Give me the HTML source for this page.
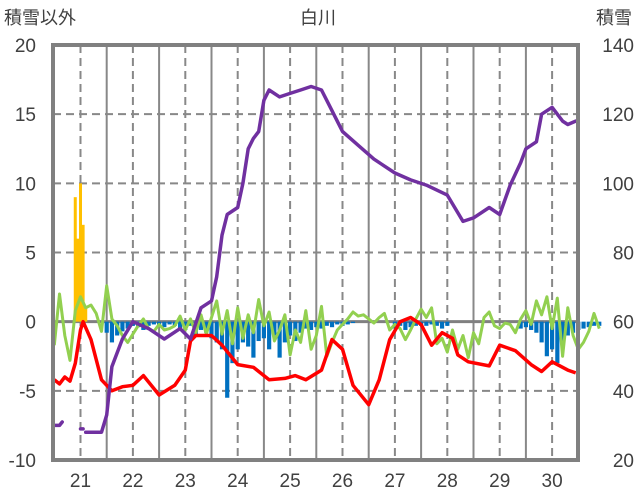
<!DOCTYPE html>
<html><head><meta charset="utf-8">
<style>
body{margin:0;background:#fff;}
svg{display:block;font-family:"Liberation Sans","Noto Sans CJK JP",sans-serif;}
</style></head>
<body>
<svg id="chart" width="636" height="501">
  <text x="318" y="24" font-size="18" text-anchor="middle" fill="#404040">白川</text>
  <text x="4" y="24" font-size="18" fill="#404040">積雪以外</text>
  <text x="632" y="24" font-size="18" text-anchor="end" fill="#404040">積雪</text>
  <g id="grid"></g>
  <g id="bars"></g>
  <g id="lines"></g>
  <g id="axes"></g>
</svg>
<script>
const dayTicks=[21,22,23,24,25,26,27,28,29,30];
const leftTicks=[20,15,10,5,0,-5,-10];
const rightTicks=[140,120,100,80,60,40,20];
// snow depth (right axis)
const purpleDays=[20.5,20.6,20.65,null,21.0,21.05,null,21.1,21.4,21.5,21.6,21.8,22.0,22.3,22.6,22.9,23.1,23.3,23.5,23.6,23.7,23.8,24.0,24.1,24.2,24.3,24.4,24.5,24.6,24.8,25.0,25.2,25.4,25.6,25.8,26.0,26.3,26.6,27.0,27.3,27.6,28.0,28.3,28.5,28.8,29.0,29.2,29.4,29.5,29.7,29.8,30.0,30.2,30.3,30.45];
const purpleVals=[30,30,31,null,29,29,null,28,28,33,47,55,60,58,55,58,55,64,66,73,85,91,93,100,110,113,115,124,127,125,126,127,128,127,121,115,111,107,103,101,99.5,96.6,89,90,93,91,99.5,106,110,112,120,122,118,117,118];
// temperature (left axis)
const redDays=[20.5,20.6,20.7,20.8,20.9,21.0,21.05,21.2,21.4,21.6,21.8,22.0,22.2,22.5,22.8,23.0,23.1,23.2,23.5,23.7,24.0,24.3,24.6,24.9,25.1,25.3,25.6,25.8,26.0,26.2,26.5,26.7,26.9,27.1,27.3,27.5,27.7,27.9,28.1,28.2,28.4,28.8,29.0,29.3,29.6,29.8,30.0,30.3,30.45];
const redVals=[-4.2,-4.5,-4.0,-4.3,-3.0,-0.6,0,-1.3,-4.2,-5.0,-4.7,-4.6,-3.9,-5.3,-4.6,-3.5,-1.4,-1.0,-1.0,-1.7,-3.1,-3.3,-4.2,-4.1,-3.9,-4.2,-3.5,-1.3,-2.0,-4.6,-6.0,-4.2,-1.3,0,0.3,-0.2,-1.7,-0.8,-1.2,-2.4,-2.9,-3.2,-1.7,-2.1,-3.1,-3.6,-2.9,-3.5,-3.7];
// 0.1-day series start 20.5
const greenVals=[-1.7,2.0,-1.0,-2.8,0.8,1.8,1.0,1.2,0.6,-0.7,2.6,0.2,-0.3,-1.0,-1.5,-0.9,-0.3,0.2,-0.5,-0.7,-0.2,-0.6,-0.5,-0.3,0.4,-0.6,0.2,-0.8,0.5,-0.9,0.3,1.5,-0.9,0.8,-1.6,1.0,-1.2,0.5,-0.8,1.6,-0.3,0.7,-1.4,-0.6,0.5,-2.4,-0.6,-1.5,0.8,-2.0,-1.0,1.1,-2.5,-1.5,-0.6,-0.2,0.2,0.7,0.4,0.5,0.2,-0.1,0.3,0.6,-0.6,-0.2,-0.5,-1.3,-0.6,0.2,0.9,0.3,1.0,-1.6,-1.2,-2.2,-0.6,-2.0,-1.0,-2.6,-0.8,-1.6,0.3,0.7,-0.3,-0.5,-0.1,-0.2,-0.8,0.2,0.8,-0.2,1.5,0.5,1.8,-0.5,1.7,-2.5,1.0,-1.0,-2.0,-1.5,-0.7,0.6,-0.5];
const blueVals=[0,0,0,0,0,0,0,0,0,0,-0.8,-1.5,-1.0,-0.7,-0.5,-0.3,-0.4,-0.6,-0.3,-0.2,-0.3,-0.4,-0.2,-0.3,-0.5,-0.6,-0.3,-1.0,-0.6,-0.8,-1.2,-1.5,-2.0,-5.5,-3.0,-2.0,-1.5,-1.8,-2.6,-1.4,-1.2,-2.0,-1.0,-2.6,-1.5,-1.0,-1.4,-0.8,-0.5,-0.6,-0.4,-0.5,-0.3,-0.4,-0.2,-0.3,-0.2,-0.1,0,0,0,0,0,0,0,-0.5,-0.3,-0.6,-0.4,-0.3,-0.3,-0.3,-0.2,-0.3,-0.5,-0.3,0,0,0,0,0,0,0,0,0,0,0,0,0,-0.5,-0.4,-0.6,-0.8,-1.5,-2.5,-2.0,-3.0,-1.5,-1.0,-0.8,-0.6,-0.5,-0.4,-0.3,-0.3];
const orangeDays=[20.9,20.95,21.0,21.05,21.1];
const orangeVals=[9,6,10,7,1];

const NS='http://www.w3.org/2000/svg';
const L=53,R=578,T=45,B=460;
function xs(d){return 80.5+(d-21)*52.4;}
function yl(v){return T+(20-v)*(B-T)/30;}
function yr(v){return T+(140-v)*(B-T)/120;}
function mk(tag,attrs,parent){const e=document.createElementNS(NS,tag);for(const k in attrs)e.setAttribute(k,attrs[k]);document.getElementById(parent).appendChild(e);return e;}

leftTicks.forEach(v=>{
  if(v===20||v===-10||v===0)return;
  const e=mk('line',{x1:L,x2:R,y1:yl(v),y2:yl(v),stroke:'#888','stroke-width':2,'stroke-dasharray':'8,5'},'grid');
  
  
});
dayTicks.forEach(d=>{
  const e=mk('line',{x1:xs(d),x2:xs(d),y1:T,y2:B,stroke:'#888','stroke-width':2,'stroke-dasharray':'8,5'},'grid');
  
  
  if(d<30){
    const s=mk('line',{x1:xs(d+0.5),x2:xs(d+0.5),y1:T,y2:B,stroke:'#888','stroke-width':2},'grid');
    
    
  }
});
const bw=52.4*0.1;
blueVals.forEach((v,i)=>{
  if(v===0)return;
  const d=20.5+i*0.1;
  const e=mk('rect',{x:xs(d)-bw*0.4,y:yl(0),width:bw*0.8,height:yl(v)-yl(0),fill:'#0070c0'},'bars');
  
  
});
orangeVals.forEach((v,i)=>{
  const d=orangeDays[i];
  const e=mk('rect',{x:xs(d)-1.5,y:yl(v),width:3,height:yl(0)-yl(v),fill:'#ffc000'},'bars');
  
  
});
const z=mk('line',{x1:L,x2:R,y1:yl(0),y2:yl(0),stroke:'#808080','stroke-width':3},'grid');



function pathFrom(days,vals,yf){
  let d='',pen=false;
  for(let i=0;i<vals.length;i++){
    if(vals[i]===null||days[i]===null){pen=false;continue;}
    d+=(pen?'L':'M')+xs(days[i]).toFixed(1)+','+yf(vals[i]).toFixed(1);pen=true;
  }
  return d;
}
const gDays=greenVals.map((_,i)=>20.5+i*0.1);
const g=mk('path',{d:pathFrom(gDays,greenVals,yl),fill:'none',stroke:'#92d050','stroke-width':3,'stroke-linejoin':'round'},'lines');


const r=mk('path',{d:pathFrom(redDays,redVals,yl),fill:'none',stroke:'#ff0000','stroke-width':3.5,'stroke-linejoin':'round'},'lines');


const p=mk('path',{d:pathFrom(purpleDays,purpleVals,yr),fill:'none',stroke:'#7030a0','stroke-width':3.5,'stroke-linejoin':'round','stroke-linecap':'round'},'lines');



const f=mk('rect',{x:L,y:T,width:R-L,height:B-T,fill:'none',stroke:'#808080','stroke-width':4},'axes');


leftTicks.forEach(v=>{
  const t=mk('text',{x:36,y:yl(v)+7,'font-size':19,'text-anchor':'end',fill:'#404040'},'axes');
  t.textContent=v;
  
  
});
rightTicks.forEach(v=>{
  const t=mk('text',{x:634,y:yr(v)+7,'font-size':19,'text-anchor':'end',fill:'#404040'},'axes');
  t.textContent=v;
  
  
});
dayTicks.forEach(d=>{
  const t=mk('text',{x:xs(d),y:487,'font-size':19,'text-anchor':'middle',fill:'#404040'},'axes');
  t.textContent=d;
  
  
});
</script>
</body></html>
